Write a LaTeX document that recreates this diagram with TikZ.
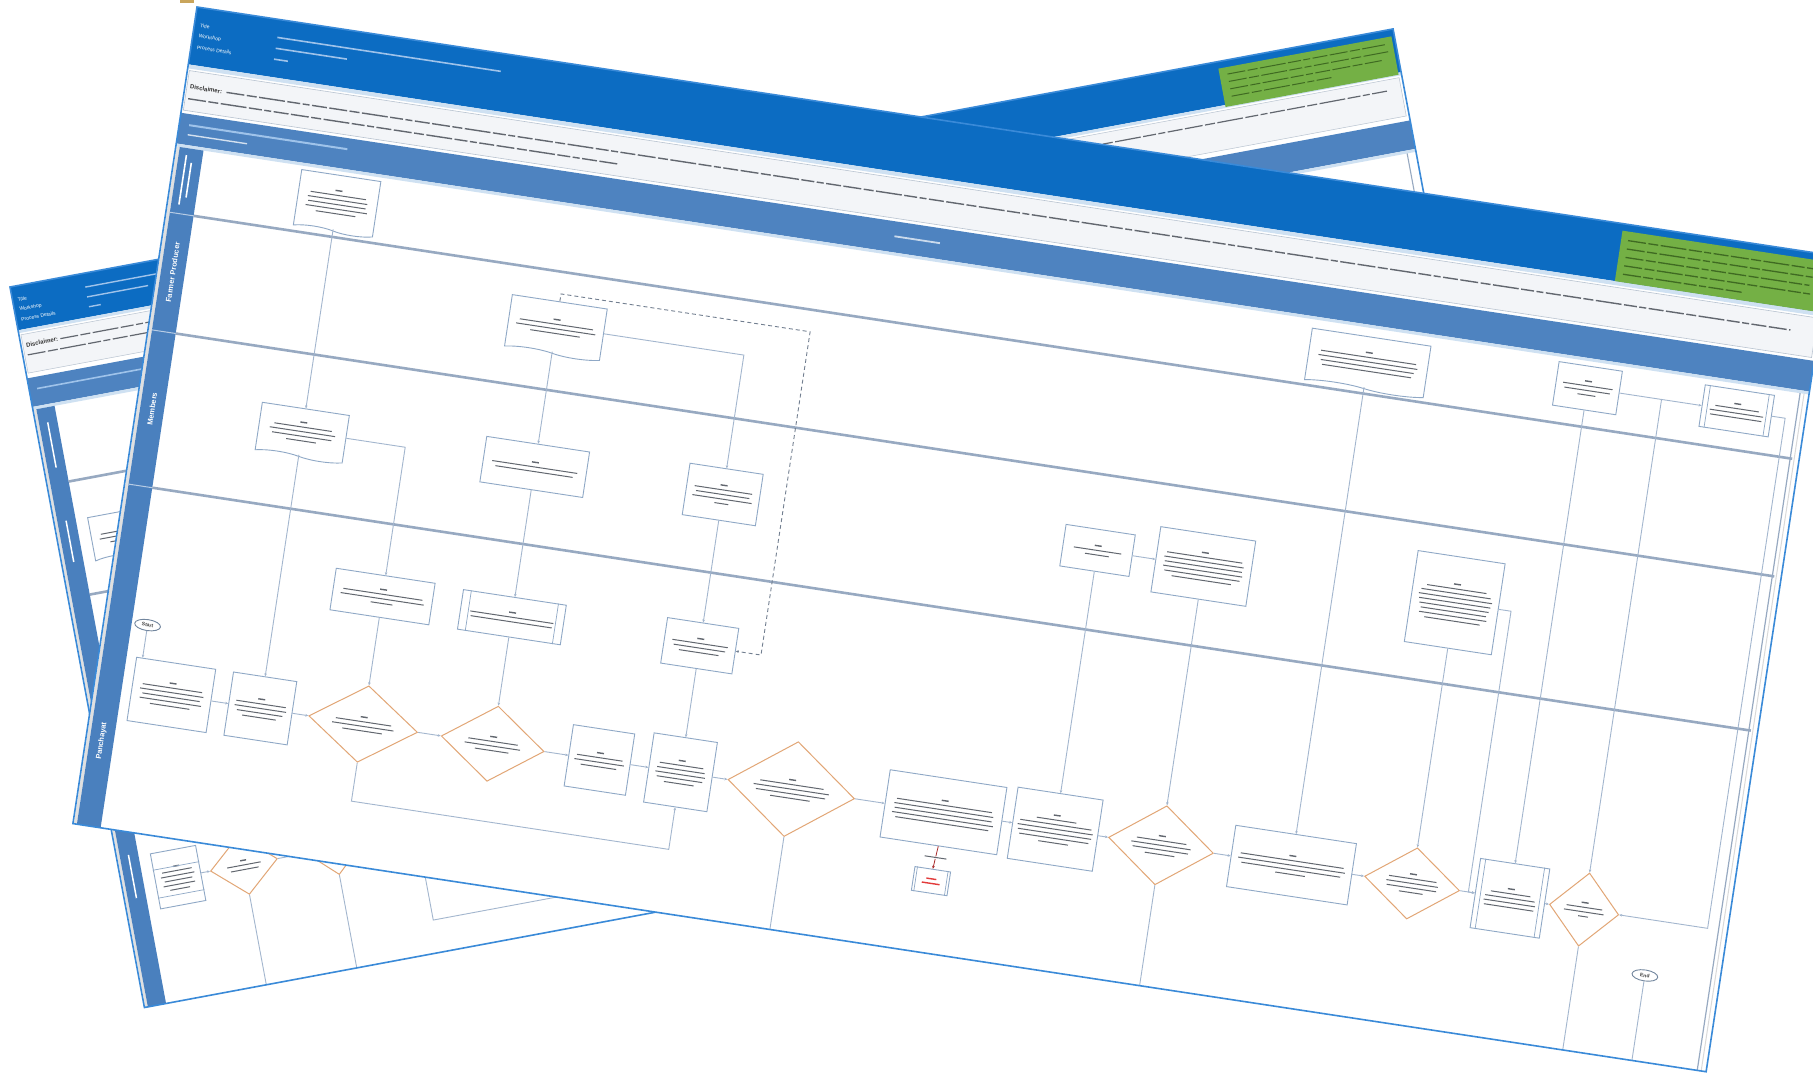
\documentclass[tikz,border=0pt]{standalone}
\usepackage{fontspec}
\setmainfont{Liberation Sans}
\usetikzlibrary{shapes.geometric,shapes.symbols,calc,arrows.meta}
\definecolor{sheetb}{HTML}{3A8AD8}
\definecolor{hdrblue}{HTML}{0C6CC2}
\definecolor{hdrline}{HTML}{CFE1F2}
\definecolor{steel}{HTML}{4E83C0}
\definecolor{colblue}{HTML}{4A80BE}
\definecolor{greenbox}{HTML}{74B045}
\definecolor{greendark}{HTML}{3F6A22}
\definecolor{laneg}{HTML}{97A9C1}
\definecolor{boxb}{HTML}{8FA8C6}
\definecolor{diab}{HTML}{E2A676}
\definecolor{conn}{HTML}{A3B6CE}
\definecolor{txt}{HTML}{62676F}
\definecolor{valblue}{HTML}{9FC3EA}
\definecolor{disc}{HTML}{F3F5F8}
\definecolor{discb}{HTML}{B8C3D0}
\definecolor{redtxt}{HTML}{E23B3B}
\definecolor{tanc}{HTML}{C9A55C}
\newcommand\bl[1]{\rule[0.2pt]{#1pt}{1.0pt}}
\newcommand\bh[1]{\rule[0.1pt]{#1pt}{1.4pt}}
\newcommand\ppl[1]{\draw[boxb, line width=0.7pt] ($(#1.north west)!0.08!(#1.north east)$) -- ($(#1.south west)!0.08!(#1.south east)$) ($(#1.north east)!0.08!(#1.north west)$) -- ($(#1.south east)!0.08!(#1.south west)$);}
\tikzset{
  sheetborder/.style={draw=sheetb, line width=1.6pt},
  laneline/.style={draw=laneg, line width=2.6pt},
  flowbox/.style={draw=boxb, line width=0.9pt, fill=white, inner sep=1pt, align=center, text=txt, font=\fontsize{3.6}{4.6}\selectfont},
  docbox/.style={flowbox, shape=tape, tape bend top=none, tape bend bottom=out and in, tape bend height=4pt},
  decision/.style={shape=diamond, draw=diab, line width=1pt, fill=white, inner sep=0pt, align=center, text=txt, font=\fontsize{3.6}{4.6}\selectfont},
  term/.style={shape=ellipse, draw=boxb!80!black, line width=0.9pt, fill=white, inner sep=0.8pt, minimum width=26pt, minimum height=11pt, text=black!75, font=\fontsize{5}{6}\selectfont\bfseries},
  conline/.style={draw=conn, line width=0.9pt},
  arr/.style={conline, -{Stealth[length=3pt,width=2.6pt]}},
  lanelabel/.style={text=white, font=\fontsize{7.5}{8}\selectfont\bfseries, rotate=90, inner sep=0pt},
  hdrlabel/.style={text=white, font=\fontsize{5}{6}\selectfont, anchor=west, inner sep=0pt},
  disclabel/.style={anchor=west, inner sep=0pt, font=\fontsize{6}{7}\selectfont\bfseries, text=black!80},
  wordpat/.style={dash pattern=on 18pt off 2.5pt on 10pt off 2.5pt on 26pt off 2.5pt on 13pt off 2.5pt on 7pt off 2.5pt on 15pt off 2.5pt}
}
\begin{document}
\begin{tikzpicture}[x=1pt,y=-1pt]
\useasboundingbox (0,0) rectangle (1813,1073);
\clip (0,0) rectangle (1813,1073);
\fill[white] (0,0) rectangle (1813,1073);
\fill[tanc] (180,0) rectangle (194,3);

%%%%%%%%%%%%%%%% BACK SHEET
\begin{scope}[shift={(10,287)}, rotate=10.57, transform shape]
\fill[white] (0,0) rectangle (1407,733);
\fill[hdrblue] (0,0) rectangle (1407,44);
\fill[hdrline] (0,44) rectangle (1407,47);
\fill[greenbox] (1228,7) rectangle (1404,46);
\foreach \q/\e in {14/1396,21.5/1398,29/1390,36.5/1340} \draw[greendark, line width=1pt, wordpat] (1236,\q) -- (\e,\q);
\node[hdrlabel] (bTi) at (5,14) {Title};
\node[hdrlabel] (bWo) at (5,24) {Workshop};
\node[hdrlabel] (bPr) at (5,34) {Process Details};
\fill[valblue] (74,13.2) rectangle (265,14.6);
\fill[valblue] (74,23.2) rectangle (136,24.6);
\fill[valblue] (74,33.2) rectangle (86,34.6);
\path[fill=disc, draw=discb, line width=0.5pt] (2,49) rectangle (1404,88);
\node[disclabel] (bDi) at (5,60) {Disclaimer:};
\draw[txt, line width=1.2pt, wordpat] (40,60) -- (1392,60);
\draw[txt, line width=1.2pt, wordpat] (5,70) -- (380,70);
\fill[steel] (0,93) rectangle (1407,122);
\fill[hdrline] (0,122) rectangle (1407,125);
\fill[valblue] (8,104) rectangle (140,105.6);
% lanes
\fill[black!12] (1,125) rectangle (3.5,733);
\fill[colblue] (3.5,125) rectangle (22,733);
\draw[laneline] (22,202) -- (1398,202);
\draw[laneline] (22,317) -- (1398,317);
\draw[laneline] (22,460) -- (1398,460);
\draw[laneg, line width=1.1pt] (1398,125) -- (1398,733);
\fill[white] (11.5,140) rectangle (13,186);
\fill[white] (11.5,240) rectangle (13,282);
\fill[white] (11.5,580) rectangle (13,624);
% nodes
\node[docbox, minimum width=76pt, minimum height=46pt] (bn1) at (72,262) {\bh{7}\\\bl{56}\\\bl{60}\\\bl{40}};
\node[flowbox, minimum width=46pt, minimum height=56pt] (bn2) at (57,611) {\bh{6}\\\bl{30}\\\bl{34}\\\bl{28}\\\bl{32}\\\bl{20}};
\draw[boxb, line width=0.7pt] ($(bn2.north west)!0.3!(bn2.south west)$) -- ($(bn2.north east)!0.3!(bn2.south east)$)
  ($(bn2.north west)!0.8!(bn2.south west)$) -- ($(bn2.north east)!0.8!(bn2.south east)$);
\node[decision, minimum width=68pt, minimum height=60pt] (bd2) at (124,611) {\bh{6}\\\bl{34}\\\bl{28}};
\node[decision, minimum width=58pt, minimum height=54pt] (bd3) at (216,611) {\bh{6}\\\bl{28}\\\bl{20}};
\coordinate (bb1) at (124,733);
\coordinate (bb2) at (216,733);
\coordinate (bk1) at (300,560);
\coordinate (bk2) at (300,700);
\coordinate (bk3) at (480,700);
\draw[arr] (bn2.east) -- (bd2.west);
\draw[arr] (bd2.east) -- (bd3.west);
\draw[conline] (bd2.south) -- (bb1);
\draw[conline] (bd3.south) -- (bb2);
\draw[conline] (bk1) -- (bk2) -- (bk3);
\path[sheetborder] (0,0) rectangle (1407,733);
\end{scope}

%%%%%%%%%%%%%%%% FRONT SHEET
\begin{scope}[shift={(197,7)}, rotate=-8.64, transform shape]
\fill[white] (0,0) rectangle (1652,826);
\fill[hdrblue] (0,0) rectangle (1652,58);
\fill[hdrline] (0,58) rectangle (1652,62);
\fill[greenbox] (1443,7) rectangle (1650,58);
\foreach \v/\e in {16/1640,24.5/1642,33/1636,41.5/1640,50/1570} \draw[greendark, line width=1.3pt, wordpat] (1450,\v) -- (\e,\v);
\node[hdrlabel] (fTi) at (6,18) {Title};
\node[hdrlabel] (fWo) at (6,29) {Workshop};
\node[hdrlabel] (fPr) at (6,40) {Process Details};
\fill[valblue] (84,17.2) rectangle (310,18.8);
\fill[valblue] (84,28.2) rectangle (156,29.8);
\fill[valblue] (84,39.2) rectangle (98,40.8);
\path[fill=disc, draw=discb, line width=0.6pt] (2,64) rectangle (1649,104);
\node[disclabel] (fDi) at (5,80) {Disclaimer:};
\draw[txt, line width=1.4pt, wordpat] (42,80) -- (1624,80);
\draw[txt, line width=1.4pt, wordpat] (5,92) -- (440,92);
\fill[steel] (0,107) rectangle (1652,138);
\fill[hdrline] (0,138) rectangle (1652,141);
\fill[valblue] (10,117) rectangle (170,119);
\fill[white!75!steel] (10,127) rectangle (70,128.4);
\fill[white!70!steel] (724,121) rectangle (770,122.8);
% lanes
\fill[black!12] (1,141) rectangle (4,826);
\fill[colblue] (4,141) rectangle (28,826);
\draw[laneline] (28,207) -- (1645,207);
\draw[laneline] (28,326) -- (1645,326);
\draw[laneline] (28,482) -- (1645,482);
\draw[white!60!colblue, line width=1pt] (4,207) -- (28,207) (4,326) -- (28,326) (4,482) -- (28,482);
\draw[laneg, line width=1.2pt] (1643,141) -- (1643,826);
\draw[black!15, line width=1pt] (1647,141) -- (1647,826);
\node[lanelabel] (lbF) at (16,266) {Farmer Producer};
\node[lanelabel] (lbM) at (16,404) {Members};
\node[lanelabel] (lbP) at (16,740) {Panchayat};
\fill[white] (11,148) rectangle (12.6,198);
\fill[white] (17,155) rectangle (18.6,190);

% ---- nodes
\node[flowbox, minimum width=80pt, minimum height=64pt] (n10) at (78,684) {\bh{7}\\\bl{60}\\\bl{64}\\\bl{58}\\\bl{62}\\\bl{40}};
\node[term] (s1) at ($(n10.north west)!0.08!(n10.north east)+(0,-33)$) {Start};
\node[docbox, minimum width=80pt, minimum height=58pt] (n11) at (168,172) {\bh{7}\\\bl{56}\\\bl{60}\\\bl{58}\\\bl{62}\\\bl{40}};
\node[docbox, minimum width=88pt, minimum height=50pt] (n12) at (168,404) {\bh{7}\\\bl{58}\\\bl{66}\\\bl{60}\\\bl{30}};
\node[flowbox, minimum width=64pt, minimum height=64pt] (n13) at (168,684) {\bh{7}\\\bl{50}\\\bl{52}\\\bl{46}\\\bl{34}};
\node[flowbox, minimum width=100pt, minimum height=42pt] (n14) at (272,555) {\bh{7}\\\bl{80}\\\bl{84}\\\bl{22}};
\node[decision, minimum width=110pt, minimum height=76pt] (d15) at (272,684) {\bh{7}\\\bl{56}\\\bl{62}\\\bl{40}};
\node[docbox, minimum width=96pt, minimum height=54pt] (n20) at (403,262) {\bh{7}\\\bl{74}\\\bl{80}\\\bl{50}};
\node[flowbox, minimum width=104pt, minimum height=46pt] (n24) at (403,404) {\bh{7}\\\bl{86}\\\bl{78}};
\node[flowbox, minimum width=104pt, minimum height=40pt] (n25) at (403,556) {\bh{7}\\\bl{84}\\\bl{82}};
\ppl{n25}
\node[decision, minimum width=104pt, minimum height=76pt] (d21) at (403,684) {\bh{7}\\\bl{50}\\\bl{56}\\\bl{34}};
\node[flowbox, minimum width=62pt, minimum height=62pt] (n22) at (511,684) {\bh{7}\\\bl{46}\\\bl{50}\\\bl{36}};
\node[flowbox, minimum width=74pt, minimum height=52pt] (n26) at (593,403) {\bh{7}\\\bl{58}\\\bl{54}\\\bl{60}\\\bl{14}};
\node[flowbox, minimum width=72pt, minimum height=46pt] (n27) at (593,556) {\bh{7}\\\bl{56}\\\bl{52}\\\bl{40}};
\node[flowbox, minimum width=64pt, minimum height=70pt] (n23) at (593,684) {\bh{7}\\\bl{44}\\\bl{48}\\\bl{50}\\\bl{46}\\\bl{30}};
\node[decision, minimum width=128pt, minimum height=74pt] (d28) at (705,684) {\bh{7}\\\bl{64}\\\bl{76}\\\bl{70}\\\bl{40}};
\node[flowbox, minimum width=118pt, minimum height=68pt] (n31) at (859,684) {\bh{7}\\\bl{96}\\\bl{100}\\\bl{98}\\\bl{102}\\\bl{94}};
\node[flowbox, draw=boxb, minimum width=36pt, minimum height=24pt, text=redtxt] (r32) at (857,754) {\bh{10}\\\bh{18}};
\ppl{r32}
\node[flowbox, minimum width=86pt, minimum height=72pt] (n33) at (972,684) {\bh{7}\\\bl{40}\\\bl{72}\\\bl{76}\\\bl{74}\\\bl{70}\\\bl{30}};
\node[flowbox, minimum width=70pt, minimum height=42pt] (n34) at (972,402) {\bh{7}\\\bl{48}\\\bl{24}};
\node[flowbox, minimum width=96pt, minimum height=66pt] (n35) at (1079,402) {\bh{7}\\\bl{76}\\\bl{80}\\\bl{78}\\\bl{80}\\\bl{76}\\\bl{60}};
\node[decision, minimum width=106pt, minimum height=76pt] (d36) at (1079,684) {\bh{7}\\\bl{50}\\\bl{60}\\\bl{56}\\\bl{30}};
\node[docbox, minimum width=120pt, minimum height=54pt] (n30) at (1211,175) {\bh{7}\\\bl{96}\\\bl{100}\\\bl{94}\\\bl{90}};
\node[flowbox, minimum width=122pt, minimum height=62pt] (n37) at (1211,684) {\bh{7}\\\bl{104}\\\bl{108}\\\bl{100}\\\bl{30}};
\node[flowbox, minimum width=88pt, minimum height=92pt] (n38) at (1333,400) {\bh{7}\\\bl{60}\\\bl{70}\\\bl{74}\\\bl{72}\\\bl{70}\\\bl{66}\\\bl{68}\\\bl{56}};
\node[decision, minimum width=96pt, minimum height=72pt] (d39) at (1333,684) {\bh{7}\\\bl{48}\\\bl{52}\\\bl{50}\\\bl{24}};
\node[flowbox, minimum width=70pt, minimum height=70pt] (n40) at (1432,684) {\bh{7}\\\bl{40}\\\bl{50}\\\bl{52}\\\bl{50}};
\ppl{n40}
\node[flowbox, minimum width=64pt, minimum height=44pt] (n41) at (1432,168) {\bh{7}\\\bl{50}\\\bl{46}\\\bl{18}};
\node[flowbox, minimum width=70pt, minimum height=42pt] (n42) at (1583,168) {\bh{7}\\\bl{44}\\\bl{54}\\\bl{52}};
\ppl{n42}
\node[decision, minimum width=70pt, minimum height=74pt] (d43) at (1507,684) {\bh{7}\\\bl{36}\\\bl{40}\\\bl{10}};
\node[term] (e1) at (1577,740) {End};

% ---- bend points and free ends
\coordinate (k1) at (272,762);
\coordinate (k2) at (593,762);
\coordinate (k4) at (272,404);
\coordinate (k5) at (403,229);
\coordinate (k6) at (655,229);
\coordinate (k7) at (655,556);
\coordinate (k8) at (593,262);
\coordinate (c2) at (1390,400);
\coordinate (k9) at (1390,684);
\coordinate (k10) at (1507,168);
\coordinate (c3) at (1632,168);
\coordinate (k11) at (1632,684);
\coordinate (b1) at (705,826);
\coordinate (b2) at (1079,826);
\coordinate (b3) at (1507,826);
\coordinate (b4) at (1577,826);

% ---- connectors
\draw[arr] (s1.south) -- ($(n10.north west)!0.08!(n10.north east)$);
\draw[arr] (n10.east) -- (n13.west);
\draw[arr] (n11.south) -- (n12.north);
\draw[arr] (n12.south) -- (n13.north);
\draw[arr] (n12.east) -- (k4) -- (n14.north);
\draw[arr] (n14.south) -- (d15.north);
\draw[arr] (n13.east) -- (d15.west);
\draw[arr] (d15.east) -- (d21.west);
\draw[arr] (d15.south) -- (k1) -- (k2) -- (n23.south);
\draw[arr] (n20.south) -- (n24.north);
\draw[arr] (n24.south) -- (n25.north);
\draw[arr] (n25.south) -- (d21.north);
\draw[arr] (n20.east) -- (k8) -- (n26.north);
\draw[arr] (n26.south) -- (n27.north);
\draw[arr] (n27.south) -- (n23.north);
\draw[draw=conn!70!black, line width=0.9pt, dash pattern=on 4pt off 3pt, -{Stealth[length=3pt,width=2.6pt]}] (n20.north) -- (k5) -- (k6) -- (k7) -- (n27.east);
\draw[arr] (d21.east) -- (n22.west);
\draw[arr] (n22.east) -- (n23.west);
\draw[arr] (n23.east) -- (d28.west);
\draw[arr] (d28.east) -- (n31.west);
\draw[conline] (d28.south) -- (b1);
\draw[draw=redtxt!75!black, line width=0.8pt, -{Stealth[length=3pt,width=2.6pt]}] (n31.south) -- node[fill=white, inner sep=0.6pt, text=txt, font=\fontsize{3.6}{4.6}\selectfont] {\bl{22}} (r32.north);
\draw[arr] (n31.east) -- (n33.west);
\draw[arr] (n34.south) -- (n33.north);
\draw[arr] (n34.east) -- (n35.west);
\draw[arr] (n35.south) -- (d36.north);
\draw[arr] (n33.east) -- (d36.west);
\draw[conline] (d36.south) -- (b2);
\draw[arr] (n30.south) -- (n37.north);
\draw[arr] (d36.east) -- (n37.west);
\draw[arr] (n37.east) -- (d39.west);
\draw[arr] (n38.south) -- (d39.north);
\draw[arr] (n38.east) -- (c2) -- (k9) -- (n40.west);
\draw[arr] (d39.east) -- (n40.west);
\draw[arr] (n41.south) -- (n40.north);
\draw[arr] (n41.east) -- (n42.west);
\draw[arr] (k10) -- (d43.north);
\draw[arr] (n42.east) -- (c3) -- (k11) -- (d43.east);
\draw[arr] (n40.east) -- (d43.west);
\draw[conline] (d43.south) -- (b3);
\draw[conline] (e1.south) -- (b4);

\path[sheetborder] (0,0) rectangle (1652,826);
\end{scope}
\end{tikzpicture}
\end{document}
